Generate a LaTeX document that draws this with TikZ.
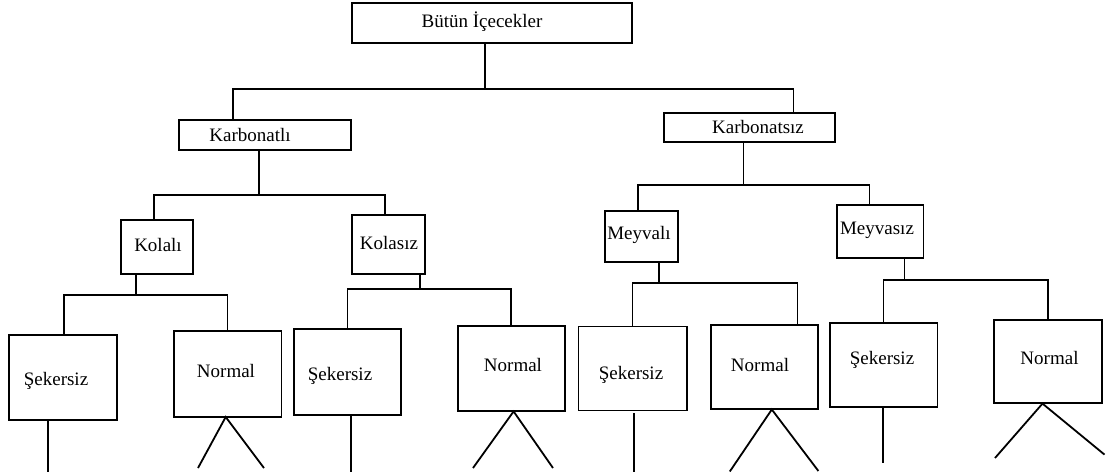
\documentclass[tikz,border=0pt]{standalone}
\usepackage{fontspec}
\setmainfont{Liberation Serif}
\begin{document}
\begin{tikzpicture}[x=1pt,y=-1pt,
  box/.style={draw, line width=1.8pt, rectangle, inner sep=0pt, outer sep=0pt},
  lbl/.style={inner sep=0pt, font=\fontsize{19}{22}\selectfont},
  conn/.style={line width=1.8pt}]
\useasboundingbox (0,0) rectangle (1109,472);
% level 0
\node[box, minimum width=280pt, minimum height=40pt] (T) at (492,23) {};
\node[lbl] (tT) at (482,22) {Bütün İçecekler};
% level 1
\node[box, minimum width=172pt, minimum height=30pt] (KA) at (265,135) {};
\node[lbl] (tKA) at (250,135) {Karbonatlı};
\node[box, minimum width=171pt, minimum height=29pt] (KN) at (749.5,127.5) {};
\node[lbl] (tKN) at (758,127) {Karbonatsız};
% level 2
\node[box, minimum width=72pt, minimum height=54pt] (KL) at (157,247) {};
\node[lbl] (tKL) at (158,245) {Kolalı};
\node[box, minimum width=73pt, minimum height=59pt] (KS) at (388.5,244.5) {};
\node[lbl] (tKS) at (389,243) {Kolasız};
\node[box, minimum width=72.6pt, minimum height=51.4pt] (MV) at (641.3,236.3) {};
\node[lbl] (tMV) at (639,235) {Meyvalı};
\node[box, minimum width=86.8pt, minimum height=53pt] (MS) at (880,231.5) {};
\node[lbl] (tMS) at (877,230.6) {Meyvasız};
% level 3
\node[box, minimum width=107.7pt, minimum height=85.4pt] (S1) at (63.2,377.3) {};
\node[lbl] (tS1) at (56,381) {Şekersiz};
\node[box, minimum width=107.4pt, minimum height=85.8pt] (N1) at (227.7,373.9) {};
\node[lbl] (tN1) at (226,371.4) {Normal};
\node[box, minimum width=107.4pt, minimum height=86.4pt] (S2) at (347.3,371.8) {};
\node[lbl] (tS2) at (340,375.7) {Şekersiz};
\node[box, minimum width=107pt, minimum height=85.3pt] (N2) at (511.5,368.4) {};
\node[lbl] (tN2) at (513,365) {Normal};
\node[box, minimum width=108.1pt, minimum height=84pt] (S3) at (632.6,368.4) {};
\node[lbl] (tS3) at (631,375) {Şekersiz};
\node[box, minimum width=107.4pt, minimum height=84.3pt] (N3) at (764.3,366.9) {};
\node[lbl] (tN3) at (760,365) {Normal};
\node[box, minimum width=107.8pt, minimum height=83.6pt] (S4) at (883.5,364.8) {};
\node[lbl] (tS4) at (882,360) {Şekersiz};
\node[box, minimum width=108pt, minimum height=83.2pt] (N4) at (1048,361.4) {};
\node[lbl] (tN4) at (1049.5,357.6) {Normal};
% junction coordinates
\coordinate (j0) at (485,89);
\coordinate (h0L) at (233,89);
\coordinate (h0R) at (793.5,89);
\coordinate (j1A) at (259,195);
\coordinate (h1AL) at (154,195);
\coordinate (h1AR) at (385,195);
\coordinate (j1N) at (743.5,185);
\coordinate (h1NL) at (638,185);
\coordinate (h1NR) at (869.5,185);
\coordinate (jKL) at (136,295);
\coordinate (hKLL) at (64,295);
\coordinate (hKLR) at (227.5,295);
\coordinate (jKS) at (420,289);
\coordinate (hKSL) at (347.5,289);
\coordinate (hKSR) at (511,289);
\coordinate (jMV) at (658.7,283);
\coordinate (hMVL) at (632.5,283);
\coordinate (hMVR) at (797.4,283);
\coordinate (jMS) at (904.5,280);
\coordinate (hMSL) at (883.5,280);
\coordinate (hMSR) at (1048,280);
% ends below leaves
\coordinate (e1) at (48,472);
\coordinate (e2) at (350.7,472);
\coordinate (e3) at (634,472);
\coordinate (e4) at (883,463.3);
\coordinate (t1a) at (225.7,417); \coordinate (t1l) at (198,468); \coordinate (t1r) at (264,468);
\coordinate (t2a) at (513.6,411.4); \coordinate (t2l) at (473,468); \coordinate (t2r) at (553,468);
\coordinate (t3a) at (771.8,409.5); \coordinate (t3l) at (729.8,471.5); \coordinate (t3r) at (818.4,471);
\coordinate (t4a) at (1042.5,403.6); \coordinate (t4l) at (995,458); \coordinate (t4r) at (1104.5,454.6);
% connectors
\draw[conn] (T.south -| j0) -- (j0);
\draw[conn] (KA.north -| h0L) -- (h0L) -- (h0R) -- (KN.north -| h0R);
\draw[conn] (KA.south -| j1A) -- (j1A);
\draw[conn] (KL.north -| h1AL) -- (h1AL) -- (h1AR) -- (KS.north -| h1AR);
\draw[conn] (KN.south -| j1N) -- (j1N);
\draw[conn] (MV.north -| h1NL) -- (h1NL) -- (h1NR) -- (MS.north -| h1NR);
\draw[conn] (KL.south -| jKL) -- (jKL);
\draw[conn] (S1.north -| hKLL) -- (hKLL) -- (hKLR) -- (N1.north -| hKLR);
\draw[conn] (KS.south -| jKS) -- (jKS);
\draw[conn] (S2.north -| hKSL) -- (hKSL) -- (hKSR) -- (N2.north -| hKSR);
\draw[conn] (MV.south -| jMV) -- (jMV);
\draw[conn] (S3.north -| hMVL) -- (hMVL) -- (hMVR) -- (N3.north -| hMVR);
\draw[conn] (MS.south -| jMS) -- (jMS);
\draw[conn] (S4.north -| hMSL) -- (hMSL) -- (hMSR) -- (N4.north -| hMSR);
% below leaves
\draw[conn] (S1.south -| e1) -- (e1);
\draw[conn] (S2.south -| e2) -- (e2);
\draw[conn] ([yshift=-3pt]S3.south -| e3) -- (e3);
\draw[conn] (S4.south -| e4) -- (e4);
\draw[conn] (t1l) -- (t1a) -- (t1r);
\draw[conn] (t2l) -- (t2a) -- (t2r);
\draw[conn] (t3l) -- (t3a) -- (t3r);
\draw[conn] (t4l) -- (t4a) -- (t4r);
\end{tikzpicture}
\end{document}
